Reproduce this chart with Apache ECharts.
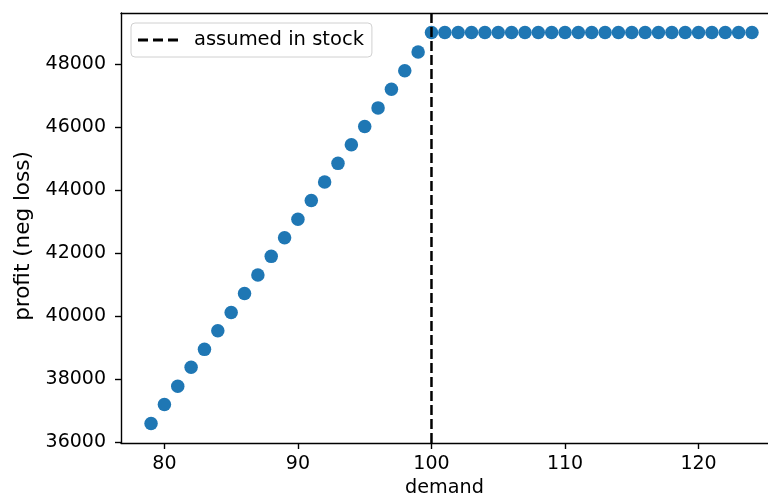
<!DOCTYPE html>
<html>
<head>
<meta charset="utf-8">
<script src="https://cdn.jsdelivr.net/npm/echarts@6/dist/echarts.min.js"></script>
<style>
  html, body { margin: 0; padding: 0; background: #fff; }
  #chart { width: 768px; height: 499px; }
</style>
</head>
<body>
<div id="chart"></div>
<script>
// demand values and profit
var demand = [79, 80, 81, 82, 83, 84, 85, 86, 87, 88, 89, 90, 91, 92, 93, 94, 95, 96, 97, 98, 99, 100,
  101, 102, 103, 104, 105, 106, 107, 108, 109, 110, 111, 112, 113, 114, 115, 116, 117, 118, 119, 120,
  121, 122, 123, 124];
var profit = [36600, 37200, 37780, 38380, 38950, 39540, 40120, 40720, 41310, 41900, 42490, 43080,
  43670, 44260, 44850, 45440, 46020, 46610, 47200, 47790, 48380, 49000,
  49000, 49000, 49000, 49000, 49000, 49000, 49000, 49000, 49000, 49000, 49000, 49000,
  49000, 49000, 49000, 49000, 49000, 49000, 49000, 49000, 49000, 49000, 49000, 49000];
var stockLevel = 100;
var xTicks = [80, 90, 100, 110, 120];
var yTicks = [36000, 38000, 40000, 42000, 44000, 46000, 48000];

// the picture is cut off on the right, so the axis ends at ~125.2
var xMin = 76.75, xMax = 125.2;
var yMin = 35980, yMax = 49620;

var points = [];
for (let i = 0; i < demand.length; i++) {
  points.push([demand[i], profit[i]]);
}

var dom = document.getElementById("chart");
var myChart = echarts.init(dom, null, { renderer: "canvas" });

var font = "DejaVu Sans";
var spine = { color: "#000", width: 1.4 };

var option = {
  animation: false,
  textStyle: { fontFamily: font },
  grid: {
    left: 121,
    right: 0,
    top: 13,
    bottom: 56,
    show: false,
    containLabel: false,
    outerBoundsMode: "none",
  },
  legend: {
    left: 131,
    top: 23,
    orient: "vertical",
    data: [
      {
        name: "assumed in stock",
        icon: "path://M0,0h10v3h-10z M15,0h10v3h-10z M30,0h10v3h-10z",
      },
    ],
    itemWidth: 42,
    itemHeight: 3,
    padding: [7, 8, 7, 7],
    borderColor: "#d0d0d0",
    borderWidth: 1,
    borderRadius: 4,
    backgroundColor: "rgba(255,255,255,0.8)",
    textStyle: { fontFamily: font, fontSize: 19.5, color: "#000", padding: [0, 0, 0, 10] },
  },
  xAxis: [
    {
      type: "value",
      min: xMin,
      max: xMax,
      name: "demand",
      nameLocation: "middle",
      nameGap: 34,
      nameTextStyle: { fontFamily: font, fontSize: 19.2, color: "#000" },
      splitLine: { show: false },
      axisLine: { onZero: false, lineStyle: spine },
      axisTick: { customValues: xTicks, length: 6, lineStyle: spine },
      axisLabel: {
        customValues: xTicks,
        fontFamily: font,
        fontSize: 19,
        color: "#000",
        margin: 12,
        formatter: (v) => String(v),
      },
    },
    {
      // top spine only
      type: "value",
      position: "top",
      min: xMin,
      max: xMax,
      splitLine: { show: false },
      axisLine: { show: true, onZero: false, lineStyle: spine },
      axisTick: { show: false },
      axisLabel: { show: false },
    },
  ],
  yAxis: {
    type: "value",
    min: yMin,
    max: yMax,
    name: "profit (neg loss)",
    nameLocation: "middle",
    nameGap: 87,
    nameTextStyle: { fontFamily: font, fontSize: 21.5, color: "#000", padding: [0, 16, 0, 0] },
    splitLine: { show: false },
    axisLine: { show: true, onZero: false, lineStyle: spine },
    axisTick: { show: true, customValues: yTicks, length: 6, lineStyle: spine },
    axisLabel: {
      customValues: yTicks,
      fontFamily: font,
      fontSize: 19,
      color: "#000",
      margin: 15,
      formatter: (v) => String(v),
    },
  },
  series: [
    {
      name: "profit",
      type: "scatter",
      data: points,
      symbolSize: 13.5,
      itemStyle: { color: "#1f77b4", opacity: 1 },
      z: 3,
    },
    {
      name: "assumed in stock",
      type: "line",
      data: [[stockLevel, yMin], [stockLevel, yMax]],
      symbol: "none",
      itemStyle: { color: "#000" },
      lineStyle: { color: "#000", width: 2.5, type: [10, 4] },
      z: 4,
    },
  ],
};

if (option && typeof option === "object") {
  myChart.setOption(option);
}
</script>
</body>
</html>
